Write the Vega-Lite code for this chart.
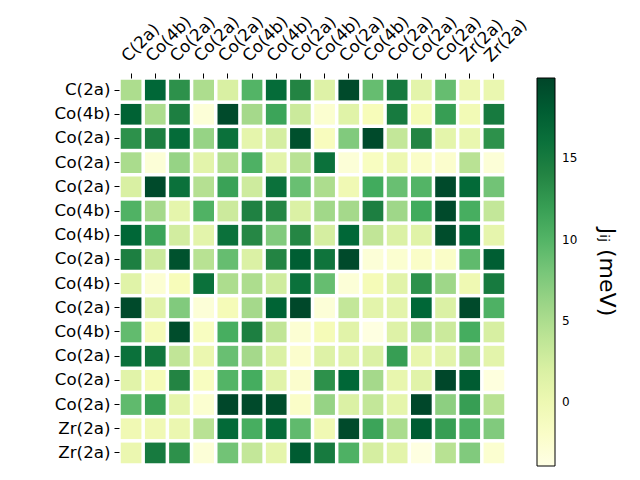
{
  "$schema": "https://vega.github.io/schema/vega-lite/v6.json",
  "width": 387,
  "height": 387,
  "autosize": {"type": "none"},
  "padding": {"left": 119, "top": 78, "right": 134, "bottom": 15},
  "background": "white",
  "config": {"view": {"stroke": null}, "font": "DejaVu Sans"},
  "data": {"values": [
{"r":0,"c":0,"v":5},{"r":0,"c":1,"v":17},{"r":0,"c":2,"v":13},{"r":0,"c":3,"v":5},{"r":0,"c":4,"v":2},{"r":0,"c":5,"v":10},{"r":0,"c":6,"v":16.5},{"r":0,"c":7,"v":14},{"r":0,"c":8,"v":1.5},{"r":0,"c":9,"v":19.5},{"r":0,"c":10,"v":9},{"r":0,"c":11,"v":15},{"r":0,"c":12,"v":1},{"r":0,"c":13,"v":9},{"r":0,"c":14,"v":0},{"r":0,"c":15,"v":0.3},
{"r":1,"c":0,"v":17.5},{"r":1,"c":1,"v":5},{"r":1,"c":2,"v":14.5},{"r":1,"c":3,"v":-3},{"r":1,"c":4,"v":19.5},{"r":1,"c":5,"v":5.5},{"r":1,"c":6,"v":11.5},{"r":1,"c":7,"v":3},{"r":1,"c":8,"v":-2.5},{"r":1,"c":9,"v":1.3},{"r":1,"c":10,"v":-1},{"r":1,"c":11,"v":15},{"r":1,"c":12,"v":-0.7},{"r":1,"c":13,"v":12},{"r":1,"c":14,"v":-0.5},{"r":1,"c":15,"v":15},
{"r":2,"c":0,"v":13},{"r":2,"c":1,"v":14.5},{"r":2,"c":2,"v":16.5},{"r":2,"c":3,"v":6.3},{"r":2,"c":4,"v":16},{"r":2,"c":5,"v":0.8},{"r":2,"c":6,"v":2.3},{"r":2,"c":7,"v":19},{"r":2,"c":8,"v":-1.3},{"r":2,"c":9,"v":7.5},{"r":2,"c":10,"v":19.5},{"r":2,"c":11,"v":3.5},{"r":2,"c":12,"v":14},{"r":2,"c":13,"v":0.9},{"r":2,"c":14,"v":0.4},{"r":2,"c":15,"v":13},
{"r":3,"c":0,"v":5.2},{"r":3,"c":1,"v":-3},{"r":3,"c":2,"v":6.3},{"r":3,"c":3,"v":1},{"r":3,"c":4,"v":4.6},{"r":3,"c":5,"v":10.3},{"r":3,"c":6,"v":1},{"r":3,"c":7,"v":4.2},{"r":3,"c":8,"v":16},{"r":3,"c":9,"v":-3},{"r":3,"c":10,"v":-1.5},{"r":3,"c":11,"v":0},{"r":3,"c":12,"v":-2},{"r":3,"c":13,"v":-2.3},{"r":3,"c":14,"v":4.2},{"r":3,"c":15,"v":-3},
{"r":4,"c":0,"v":2},{"r":4,"c":1,"v":19.5},{"r":4,"c":2,"v":16},{"r":4,"c":3,"v":4.5},{"r":4,"c":4,"v":11.7},{"r":4,"c":5,"v":2.8},{"r":4,"c":6,"v":16},{"r":4,"c":7,"v":8.8},{"r":4,"c":8,"v":5},{"r":4,"c":9,"v":-0.3},{"r":4,"c":10,"v":11},{"r":4,"c":11,"v":8.8},{"r":4,"c":12,"v":10},{"r":4,"c":13,"v":19.5},{"r":4,"c":14,"v":16.7},{"r":4,"c":15,"v":8.3},
{"r":5,"c":0,"v":10.2},{"r":5,"c":1,"v":5.5},{"r":5,"c":2,"v":0.8},{"r":5,"c":3,"v":10.2},{"r":5,"c":4,"v":2.9},{"r":5,"c":5,"v":14.3},{"r":5,"c":6,"v":13.8},{"r":5,"c":7,"v":1.8},{"r":5,"c":8,"v":5.7},{"r":5,"c":9,"v":5.5},{"r":5,"c":10,"v":14.5},{"r":5,"c":11,"v":5.8},{"r":5,"c":12,"v":11},{"r":5,"c":13,"v":19.5},{"r":5,"c":14,"v":10.7},{"r":5,"c":15,"v":3.5},
{"r":6,"c":0,"v":17},{"r":6,"c":1,"v":11.5},{"r":6,"c":2,"v":2.5},{"r":6,"c":3,"v":1},{"r":6,"c":4,"v":16},{"r":6,"c":5,"v":13.7},{"r":6,"c":6,"v":7.5},{"r":6,"c":7,"v":13.8},{"r":6,"c":8,"v":2.3},{"r":6,"c":9,"v":17},{"r":6,"c":10,"v":3.7},{"r":6,"c":11,"v":1.8},{"r":6,"c":12,"v":1.3},{"r":6,"c":13,"v":19.3},{"r":6,"c":14,"v":16.5},{"r":6,"c":15,"v":0.7},
{"r":7,"c":0,"v":14.5},{"r":7,"c":1,"v":3},{"r":7,"c":2,"v":18.8},{"r":7,"c":3,"v":4.3},{"r":7,"c":4,"v":9},{"r":7,"c":5,"v":1.8},{"r":7,"c":6,"v":14},{"r":7,"c":7,"v":17.8},{"r":7,"c":8,"v":15.7},{"r":7,"c":9,"v":19.5},{"r":7,"c":10,"v":-3},{"r":7,"c":11,"v":-2.5},{"r":7,"c":12,"v":-2},{"r":7,"c":13,"v":-2},{"r":7,"c":14,"v":9.3},{"r":7,"c":15,"v":17.8},
{"r":8,"c":0,"v":1.3},{"r":8,"c":1,"v":-2.7},{"r":8,"c":2,"v":-1},{"r":8,"c":3,"v":16},{"r":8,"c":4,"v":5},{"r":8,"c":5,"v":5},{"r":8,"c":6,"v":2.7},{"r":8,"c":7,"v":16},{"r":8,"c":8,"v":9},{"r":8,"c":9,"v":-3},{"r":8,"c":10,"v":-0.8},{"r":8,"c":11,"v":1.2},{"r":8,"c":12,"v":13},{"r":8,"c":13,"v":5.8},{"r":8,"c":14,"v":-0.2},{"r":8,"c":15,"v":15},
{"r":9,"c":0,"v":19.5},{"r":9,"c":1,"v":1.2},{"r":9,"c":2,"v":7.5},{"r":9,"c":3,"v":-3},{"r":9,"c":4,"v":-0.8},{"r":9,"c":5,"v":5.5},{"r":9,"c":6,"v":17.3},{"r":9,"c":7,"v":19.7},{"r":9,"c":8,"v":-3},{"r":9,"c":9,"v":3.5},{"r":9,"c":10,"v":1},{"r":9,"c":11,"v":1},{"r":9,"c":12,"v":17},{"r":9,"c":13,"v":1.8},{"r":9,"c":14,"v":19.5},{"r":9,"c":15,"v":10.3},
{"r":10,"c":0,"v":9.2},{"r":10,"c":1,"v":-0.8},{"r":10,"c":2,"v":19.3},{"r":10,"c":3,"v":-1.5},{"r":10,"c":4,"v":10.7},{"r":10,"c":5,"v":14.5},{"r":10,"c":6,"v":3.7},{"r":10,"c":7,"v":-2.7},{"r":10,"c":8,"v":-0.8},{"r":10,"c":9,"v":1.2},{"r":10,"c":10,"v":-3.7},{"r":10,"c":11,"v":1.5},{"r":10,"c":12,"v":5.2},{"r":10,"c":13,"v":3},{"r":10,"c":14,"v":10.8},{"r":10,"c":15,"v":2.2},
{"r":11,"c":0,"v":16},{"r":11,"c":1,"v":15.5},{"r":11,"c":2,"v":3.7},{"r":11,"c":3,"v":0.2},{"r":11,"c":4,"v":8.8},{"r":11,"c":5,"v":5.5},{"r":11,"c":6,"v":1.8},{"r":11,"c":7,"v":-2.3},{"r":11,"c":8,"v":1.5},{"r":11,"c":9,"v":1.2},{"r":11,"c":10,"v":1.8},{"r":11,"c":11,"v":12},{"r":11,"c":12,"v":0.5},{"r":11,"c":13,"v":1},{"r":11,"c":14,"v":5},{"r":11,"c":15,"v":1},
{"r":12,"c":0,"v":1.2},{"r":12,"c":1,"v":-0.8},{"r":12,"c":2,"v":14},{"r":12,"c":3,"v":-1.5},{"r":12,"c":4,"v":10},{"r":12,"c":5,"v":10.8},{"r":12,"c":6,"v":1.2},{"r":12,"c":7,"v":-2.3},{"r":12,"c":8,"v":13},{"r":12,"c":9,"v":17},{"r":12,"c":10,"v":5.5},{"r":12,"c":11,"v":0.5},{"r":12,"c":12,"v":1.2},{"r":12,"c":13,"v":19.8},{"r":12,"c":14,"v":18},{"r":12,"c":15,"v":-3.5},
{"r":13,"c":0,"v":9.3},{"r":13,"c":1,"v":12},{"r":13,"c":2,"v":0.8},{"r":13,"c":3,"v":-2.5},{"r":13,"c":4,"v":19.8},{"r":13,"c":5,"v":19.5},{"r":13,"c":6,"v":19.3},{"r":13,"c":7,"v":-2},{"r":13,"c":8,"v":6.3},{"r":13,"c":9,"v":1.8},{"r":13,"c":10,"v":3.5},{"r":13,"c":11,"v":0.8},{"r":13,"c":12,"v":19.8},{"r":13,"c":13,"v":6.8},{"r":13,"c":14,"v":12},{"r":13,"c":15,"v":4.3},
{"r":14,"c":0,"v":-0.3},{"r":14,"c":1,"v":-0.3},{"r":14,"c":2,"v":0.2},{"r":14,"c":3,"v":4.2},{"r":14,"c":4,"v":16.7},{"r":14,"c":5,"v":10.7},{"r":14,"c":6,"v":16.5},{"r":14,"c":7,"v":9.3},{"r":14,"c":8,"v":-0.3},{"r":14,"c":9,"v":19.5},{"r":14,"c":10,"v":11.5},{"r":14,"c":11,"v":5.2},{"r":14,"c":12,"v":18},{"r":14,"c":13,"v":12},{"r":14,"c":14,"v":10.3},{"r":14,"c":15,"v":7.5},
{"r":15,"c":0,"v":0.2},{"r":15,"c":1,"v":15},{"r":15,"c":2,"v":13},{"r":15,"c":3,"v":-3},{"r":15,"c":4,"v":8.3},{"r":15,"c":5,"v":3.5},{"r":15,"c":6,"v":0.8},{"r":15,"c":7,"v":18},{"r":15,"c":8,"v":15},{"r":15,"c":9,"v":10.3},{"r":15,"c":10,"v":2.3},{"r":15,"c":11,"v":1},{"r":15,"c":12,"v":-3.7},{"r":15,"c":13,"v":4.3},{"r":15,"c":14,"v":7.5},{"r":15,"c":15,"v":-2.5}
  ]},
  "mark": {"type": "rect"},
  "encoding": {
    "x": {
      "field": "c", "type": "ordinal",
      "scale": {"paddingInner": 0.145, "paddingOuter": 0.072},
      "axis": {
        "orient": "top", "title": null, "domain": false,
        "ticks": true, "tickColor": "black", "tickSize": 5, "tickWidth": 1,
        "labelAngle": -45, "labelAlign": "left", "labelBaseline": "bottom",
        "labelFontSize": 16.7, "labelColor": "black", "labelPadding": 8, "labelDx": -7,
        "labelFont": "DejaVu Sans",
        "labelExpr": "['C(2a)','Co(4b)','Co(2a)','Co(2a)','Co(2a)','Co(4b)','Co(4b)','Co(2a)','Co(4b)','Co(2a)','Co(4b)','Co(2a)','Co(2a)','Co(2a)','Zr(2a)','Zr(2a)'][datum.value]"
      }
    },
    "y": {
      "field": "r", "type": "ordinal",
      "scale": {"paddingInner": 0.145, "paddingOuter": 0.072},
      "axis": {
        "orient": "left", "title": null, "domain": false,
        "ticks": true, "tickColor": "black", "tickSize": 5, "tickWidth": 1,
        "labelFontSize": 16.7, "labelColor": "black", "labelPadding": 4,
        "labelFont": "DejaVu Sans",
        "labelExpr": "['C(2a)','Co(4b)','Co(2a)','Co(2a)','Co(2a)','Co(4b)','Co(4b)','Co(2a)','Co(4b)','Co(2a)','Co(4b)','Co(2a)','Co(2a)','Co(2a)','Zr(2a)','Zr(2a)'][datum.value]"
      }
    },
    "color": {
      "field": "v", "type": "quantitative",
      "scale": {
        "domain": [-3.95, -0.96, 2.03, 5.03, 8.0, 11.0, 13.96, 16.95, 19.95],
        "range": ["#ffffe5", "#f7fcb9", "#d9f0a3", "#addd8e", "#78c679", "#41ab5d", "#238443", "#006837", "#004529"],
        "interpolate": "rgb"
      },
      "legend": {
        "orient": "right", "offset": 31, "padding": 0,
        "direction": "vertical",
        "gradientLength": 388, "gradientThickness": 18,
        "gradientStrokeColor": "black", "gradientStrokeWidth": 1,
        "values": [0, 5, 10, 15],
        "labelFontSize": 12, "labelColor": "black", "labelOffset": 7, "labelFont": "DejaVu Sans",
        "title": "Jᵢⱼ (meV)", "titleOrient": "right", "titleAngle": 90,
        "titleFontSize": 22, "titleFontWeight": "normal", "titleColor": "black",
        "titleFont": "DejaVu Sans", "titleAnchor": "middle", "titlePadding": 18
      }
    }
  }
}
